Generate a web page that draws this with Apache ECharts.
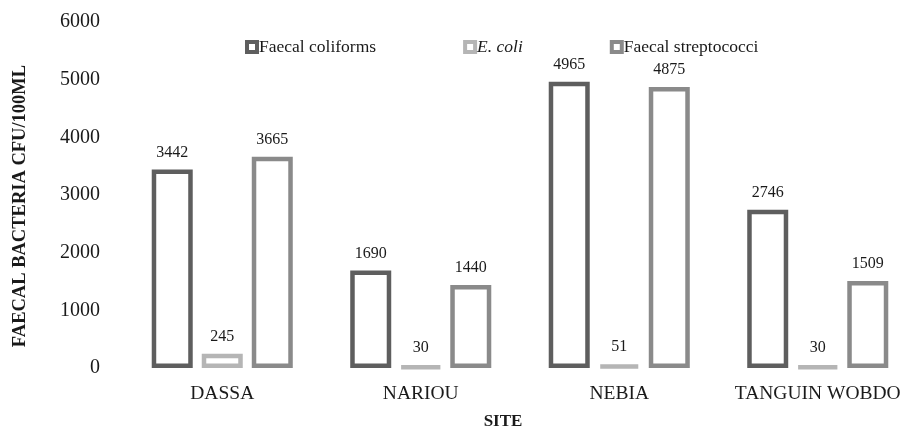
<!DOCTYPE html>
<html>
<head>
<meta charset="utf-8">
<script src="https://cdn.jsdelivr.net/npm/echarts@6/dist/echarts.min.js"></script>
<style>
  html, body { margin: 0; padding: 0; background: #fff; }
  #chart { width: 907px; height: 430px; }
</style>
</head>
<body>
<div id="chart"></div>
<script>
// Sampling sites and bacterial counts (CFU/100 mL)
const sites = ['DASSA', 'NARIOU', 'NEBIA', 'TANGUIN WOBDO'];
const faecalColiforms = [3442, 1690, 4965, 2746];
const eColi = [245, 30, 51, 30];
const faecalStreptococci = [3665, 1440, 4875, 1509];
const yTicks = [0, 1000, 2000, 3000, 4000, 5000, 6000];

const serif = '"Liberation Serif", "DejaVu Serif", serif';
const colors = ['#5e5e5e', '#b5b5b5', '#8a8a8a'];

function barSeries(name, data, color) {
  return {
    name: name,
    type: 'bar',
    data: data,
    barWidth: 41,
    barGap: '22%',
    itemStyle: { color: '#ffffff', borderColor: color, borderWidth: 4.5 },
    label: {
      show: true,
      position: 'top',
      distance: 9,
      fontFamily: serif,
      fontSize: 16,
      color: '#1a1a1a'
    }
  };
}

const chart = echarts.init(document.getElementById('chart'), null, { renderer: 'canvas' });
chart.setOption({
  animation: false,
  backgroundColor: '#ffffff',
  grid: { left: 123, right: -10, top: 22, bottom: 62, containLabel: false, outerBoundsMode: 'none' },
  legend: {
    top: 33,
    left: 240,
    itemGap: 87,
    itemWidth: 10,
    itemHeight: 10,
    icon: 'rect',
    textStyle: {
      fontFamily: serif,
      fontSize: 17.5,
      color: '#1a1a1a',
      padding: [0, 0, 0, -3],
      rich: { i: { fontStyle: 'italic', fontFamily: serif, fontSize: 17.5, color: '#1a1a1a' } }
    },
    formatter: function (n) { return n === 'E. coli' ? '{i|E. coli}' : n; },
    data: [
      { name: 'Faecal coliforms', itemStyle: { color: '#fff', borderColor: colors[0], borderWidth: 4 } },
      { name: 'E. coli', itemStyle: { color: '#fff', borderColor: colors[1], borderWidth: 4 } },
      { name: 'Faecal streptococci', itemStyle: { color: '#fff', borderColor: colors[2], borderWidth: 4 } }
    ]
  },
  xAxis: {
    type: 'category',
    data: sites,
    axisLine: { show: false },
    axisTick: { show: false },
    axisLabel: { interval: 0, fontFamily: serif, fontSize: 19.5, color: '#1a1a1a', margin: 16 },
    name: 'SITE',
    nameLocation: 'middle',
    nameGap: 45,
    nameTextStyle: { fontFamily: serif, fontSize: 17, fontWeight: 'bold', color: '#1a1a1a', padding: [0, 34, 0, 0] }
  },
  yAxis: {
    type: 'value',
    min: yTicks[0],
    max: yTicks[yTicks.length - 1],
    interval: 1000,
    splitLine: { show: false },
    axisLine: { show: false },
    axisTick: { show: false },
    axisLabel: {
      fontFamily: serif, fontSize: 20, color: '#1a1a1a', margin: 23,
      formatter: function (v) { return String(v); }
    }
  },
  graphic: [{
    type: 'text',
    x: 20,
    y: 206,
    rotation: Math.PI / 2,
    style: {
      text: 'FAECAL BACTERIA CFU/100ML',
      fontFamily: serif,
      fontSize: 18.5,
      fontWeight: 'bold',
      fill: '#1a1a1a',
      align: 'center',
      verticalAlign: 'middle'
    }
  }],
  series: [
    barSeries('Faecal coliforms', faecalColiforms, colors[0]),
    barSeries('E. coli', eColi, colors[1]),
    barSeries('Faecal streptococci', faecalStreptococci, colors[2])
  ]
});
</script>
</body>
</html>
